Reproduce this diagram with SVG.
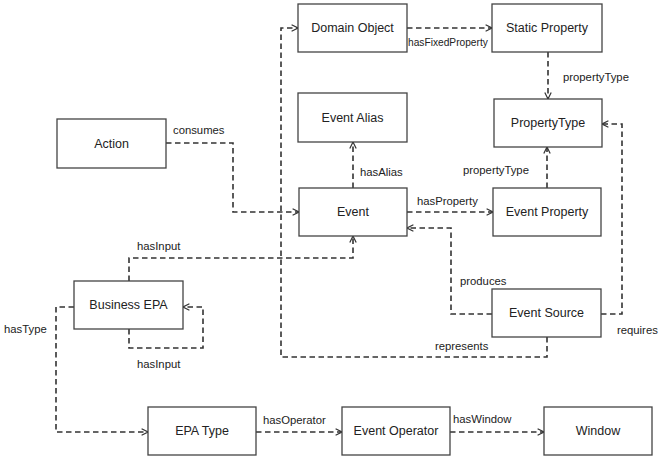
<svg xmlns="http://www.w3.org/2000/svg" width="659" height="460" viewBox="0 0 659 460">
<defs>
<marker id="arr" viewBox="0 0 10 10" refX="9" refY="5" markerWidth="8" markerHeight="8" markerUnits="userSpaceOnUse" orient="auto">
<path d="M1,1 L9,5 L1,9" fill="none" stroke="#333" stroke-width="1.5"/>
</marker>
</defs>
<style>
.node rect{fill:#fff;stroke:#444;stroke-width:1.3}
.node text{font-family:"Liberation Sans",Arial,sans-serif;font-size:12.5px;fill:#222;text-anchor:middle;dominant-baseline:central}
.edge{fill:none;stroke:#333;stroke-width:1.6;stroke-dasharray:5.5,3.5;marker-end:url(#arr)}
.lbl{font-family:"Liberation Sans",Arial,sans-serif;font-size:11.3px;fill:#222}
</style>
<rect width="659" height="460" fill="#fff"/>
<g id="connectors">
<path class="edge" d="M407,28 H492"/>
<path class="edge" d="M548,52 V99"/>
<path class="edge" d="M547,188 V147"/>
<path class="edge" d="M166,143 H233 V212 H299"/>
<path class="edge" d="M353,188 V142"/>
<path class="edge" d="M407,212 H493"/>
<path class="edge" d="M492,314 H451 V228 H407"/>
<path class="edge" d="M601,314 H622 V124 H602"/>
<path class="edge" d="M547,337 V357 H281 V28 H298"/>
<path class="edge" d="M129,281 V258 H353 V236"/>
<path class="edge" d="M129,329 V348 H203 V307 H183"/>
<path class="edge" d="M74,307 H56 V432 H148"/>
<path class="edge" d="M256,432 H342"/>
<path class="edge" d="M450,432 H544"/>
<text class="lbl" x="408" y="46" style="font-size:10.2px">hasFixedProperty</text>
<text class="lbl" x="563" y="81">propertyType</text>
<text class="lbl" x="463" y="174">propertyType</text>
<text class="lbl" x="173" y="134">consumes</text>
<text class="lbl" x="360" y="176">hasAlias</text>
<text class="lbl" x="417" y="205">hasProperty</text>
<text class="lbl" x="460" y="285">produces</text>
<text class="lbl" x="617" y="334">requires</text>
<text class="lbl" x="435" y="350">represents</text>
<text class="lbl" x="137" y="250">hasInput</text>
<text class="lbl" x="137" y="368">hasInput</text>
<text class="lbl" x="4" y="333">hasType</text>
<text class="lbl" x="263" y="424">hasOperator</text>
<text class="lbl" x="453" y="423">hasWindow</text>
</g>
<g id="domain-object" class="node"><rect x="298" y="4" width="109" height="48"/><text x="352.5" y="28">Domain Object</text></g>
<g id="static-property" class="node"><rect x="492" y="4" width="110" height="48"/><text x="547" y="28">Static Property</text></g>
<g id="event-alias" class="node"><rect x="298" y="93" width="109" height="49"/><text x="352.5" y="117.5">Event Alias</text></g>
<g id="property-type" class="node"><rect x="494" y="99" width="108" height="48"/><text x="548" y="123">PropertyType</text></g>
<g id="action" class="node"><rect x="57" y="119" width="109" height="49"/><text x="111.5" y="143.5">Action</text></g>
<g id="event" class="node"><rect x="299" y="188" width="108" height="48"/><text x="353" y="212">Event</text></g>
<g id="event-property" class="node"><rect x="493" y="188" width="108" height="48"/><text x="547" y="212">Event Property</text></g>
<g id="event-source" class="node"><rect x="492" y="289" width="109" height="48"/><text x="546.5" y="313">Event Source</text></g>
<g id="business-epa" class="node"><rect x="74" y="281" width="109" height="48"/><text x="128.5" y="305">Business EPA</text></g>
<g id="epa-type" class="node"><rect x="148" y="407" width="108" height="48"/><text x="202" y="431">EPA Type</text></g>
<g id="event-operator" class="node"><rect x="342" y="407" width="108" height="48"/><text x="396" y="431">Event Operator</text></g>
<g id="window" class="node"><rect x="544" y="407" width="108" height="48"/><text x="598" y="431">Window</text></g>
</svg>
